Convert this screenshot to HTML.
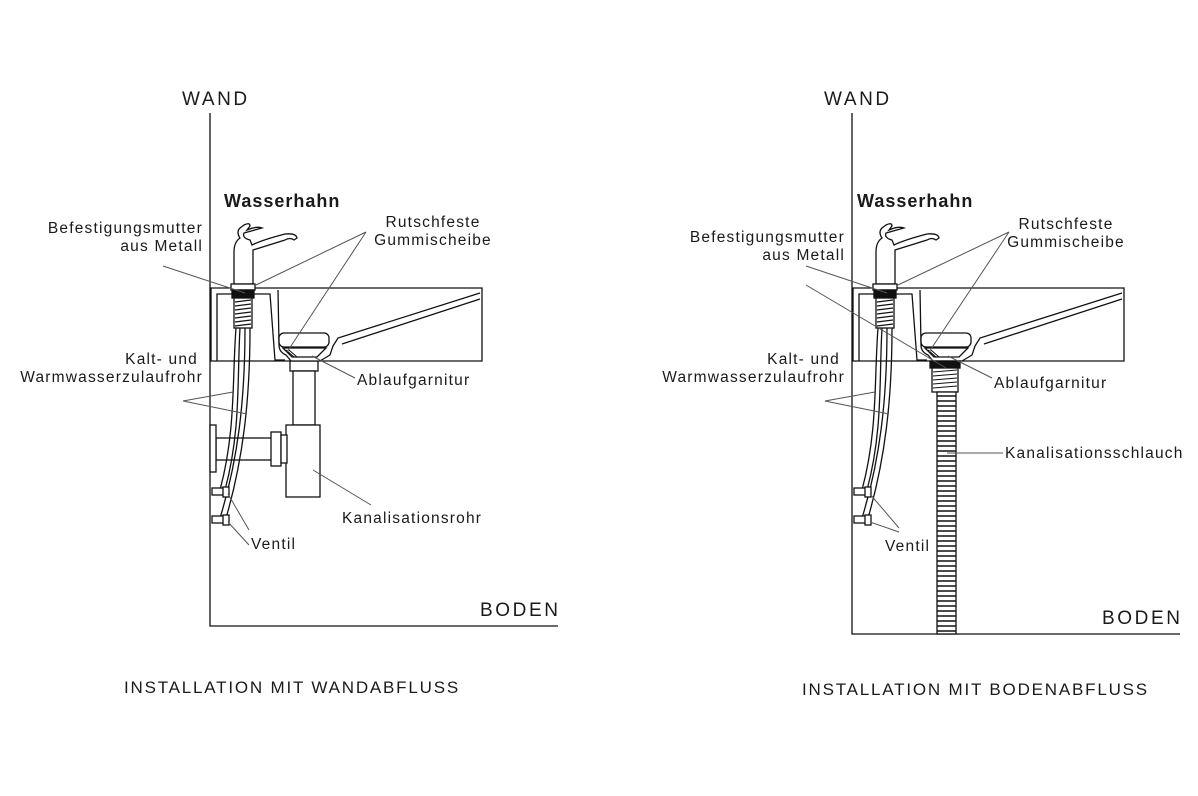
<!DOCTYPE html>
<html><head><meta charset="utf-8"><style>
html,body{margin:0;padding:0;background:#fff;}
svg{display:block;}
text{font-family:"Liberation Sans",sans-serif;fill:#1a1a1a;}
.l{font-size:15.5px;letter-spacing:1.2px;}
.b{font-size:19px;letter-spacing:2.6px;}
.c{font-size:17px;letter-spacing:1.8px;}
</style></head><body>
<svg width="1198" height="796" viewBox="0 0 1198 796" xmlns="http://www.w3.org/2000/svg">
<defs>
<g id="sink" fill="none" stroke="#111" stroke-width="1.3">
  <path d="M211,288 H482 V361 H211 Z" fill="#fff"/>
  <path d="M217,361 V294 H270 L275,360 H285"/>
  <path d="M278,290 L279,345 Q279,352 286,355 L291,361"/>
  <path d="M480,293 L338,338 L333,346 L330,355 L320,361"/>
  <path d="M480,299 L342,344"/>
  <rect x="279" y="333" width="50" height="14" rx="5" fill="#fff"/>
  <path d="M283,348 L292,357 H317 L326,348 Z" fill="#fff"/>
  <path d="M286,350 L294,357 M289,350 L297,357" stroke-width="1"/>
  <path d="M234,284 V252 Q234,242 240,238 Q236,232 240,228 L244,225 Q250,222 250,226 L247,230 Q256,226 262,228 L244,233 Q242,238 250,240 L252,245 Q262,240 285,234 Q296,233 297,238 L294,240 Q290,237 285,240 L253,250 V284 Z" fill="#fff"/>
  <rect x="231" y="284" width="24" height="6" fill="#fff"/>
  <rect x="232" y="290" width="22" height="8" fill="#111"/>
  <rect x="234" y="298" width="18" height="30" fill="#fff"/>
  <path d="M235,302 L251,300 M235,306 L251,304 M235,310 L251,308 M235,314 L251,312 M235,318 L251,316 M235,322 L251,320 M235,326 L251,324" stroke-width="1.2"/>
  <path d="M236,328 C232,380 236,430 220,490"/>
  <path d="M240,328 C237,380 241,430 225,490"/>
  <path d="M245,328 C245,400 238,460 220,518"/>
  <path d="M250,328 C250,400 243,460 226,518"/>
  <rect x="212" y="488" width="12" height="7" fill="#fff"/>
  <rect x="223" y="487" width="6" height="10" fill="#fff"/>
  <rect x="212" y="516" width="12" height="7" fill="#fff"/>
  <rect x="223" y="515" width="6" height="10" fill="#fff"/>
</g>
</defs>

<g fill="none" stroke="#111" stroke-width="1.3">
  <path d="M210,113 V626 H558"/>
  <rect x="290" y="361" width="28" height="10" fill="#fff"/>
  <rect x="293" y="371" width="22" height="54" fill="#fff"/>
  <rect x="286" y="425" width="34" height="72" fill="#fff"/>
  <rect x="216" y="438" width="56" height="22" fill="#fff"/>
  <rect x="271" y="432" width="10" height="34" fill="#fff"/>
  <rect x="281" y="435" width="6" height="28" fill="#fff"/>
  <rect x="210" y="425" width="6" height="47" fill="#fff"/>
</g>
<use href="#sink"/>
<g stroke="#555" stroke-width="1" fill="none">
  <path d="M163,266 L245,293"/>
  <path d="M366,232 L256,285 M366,232 L287,352"/>
  <path d="M183,401 L233,392 M183,401 L247,414"/>
  <path d="M355,378 L312,356"/>
  <path d="M371,505 L313,470"/>
  <path d="M249,530 L228,494 M249,545 L228,522"/>
</g>
<text x="182" y="105" class="b">WAND</text>
<text x="224" y="207" font-size="18" letter-spacing="1" font-weight="bold">Wasserhahn</text>
<text x="203" y="233" class="l" text-anchor="end">Befestigungsmutter</text>
<text x="203" y="251" class="l" text-anchor="end">aus Metall</text>
<text x="433" y="227" class="l" text-anchor="middle">Rutschfeste</text>
<text x="433" y="245" class="l" text-anchor="middle">Gummischeibe</text>
<text x="198" y="364" class="l" text-anchor="end">Kalt- und</text>
<text x="203" y="382" class="l" text-anchor="end">Warmwasserzulaufrohr</text>
<text x="357" y="385" class="l">Ablaufgarnitur</text>
<text x="342" y="523" class="l">Kanalisationsrohr</text>
<text x="251" y="549" class="l">Ventil</text>
<text x="480" y="616" class="b">BODEN</text>
<text x="124" y="693" class="c">INSTALLATION MIT WANDABFLUSS</text>

<g fill="none" stroke="#111" stroke-width="1.3">
  <path d="M852,113 V634 H1180"/>
</g>
<use href="#sink" transform="translate(642,0)"/>
<g fill="none" stroke="#111" stroke-width="1.3">
  <rect x="930" y="361" width="30" height="7" fill="#111"/>
  <rect x="932" y="368" width="26" height="24" fill="#fff"/>
  <path d="M933,372 L957,370 M933,376 L957,374 M933,380 L957,378 M933,384 L957,382 M933,388 L957,386" stroke-width="1.1"/>
  <rect x="937" y="392" width="19" height="242" fill="#fff"/>
</g>
<g stroke="#111" stroke-width="1.6">
  <path d="M937,396H956M937,401H956M937,406H956M937,411H956M937,416H956M937,421H956M937,426H956M937,431H956M937,436H956M937,441H956M937,446H956M937,451H956M937,456H956M937,461H956M937,466H956M937,471H956M937,476H956M937,481H956M937,486H956M937,491H956M937,496H956M937,501H956M937,506H956M937,511H956M937,516H956M937,521H956M937,526H956M937,531H956M937,536H956M937,541H956M937,546H956M937,551H956M937,556H956M937,561H956M937,566H956M937,571H956M937,576H956M937,581H956M937,586H956M937,591H956M937,596H956M937,601H956M937,606H956M937,611H956M937,616H956M937,621H956M937,626H956M937,631H956"/>
</g>
<g stroke="#555" stroke-width="1" fill="none">
  <path d="M806,266 L887,293"/>
  <path d="M806,285 L946,368"/>
  <path d="M1009,232 L898,285 M1009,232 L929,352"/>
  <path d="M825,401 L875,392 M825,401 L889,414"/>
  <path d="M992,378 L948,356"/>
  <path d="M1003,453 L947,453"/>
  <path d="M899,528 L870,494 M899,532 L870,522"/>
</g>
<text x="824" y="105" class="b">WAND</text>
<text x="857" y="207" font-size="18" letter-spacing="1" font-weight="bold">Wasserhahn</text>
<text x="845" y="242" class="l" text-anchor="end">Befestigungsmutter</text>
<text x="845" y="260" class="l" text-anchor="end">aus Metall</text>
<text x="1066" y="229" class="l" text-anchor="middle">Rutschfeste</text>
<text x="1066" y="247" class="l" text-anchor="middle">Gummischeibe</text>
<text x="840" y="364" class="l" text-anchor="end">Kalt- und</text>
<text x="845" y="382" class="l" text-anchor="end">Warmwasserzulaufrohr</text>
<text x="994" y="388" class="l">Ablaufgarnitur</text>
<text x="1005" y="458" class="l">Kanalisationsschlauch</text>
<text x="885" y="551" class="l">Ventil</text>
<text x="1102" y="624" class="b">BODEN</text>
<text x="802" y="695" class="c">INSTALLATION MIT BODENABFLUSS</text>
</svg>
</body></html>
